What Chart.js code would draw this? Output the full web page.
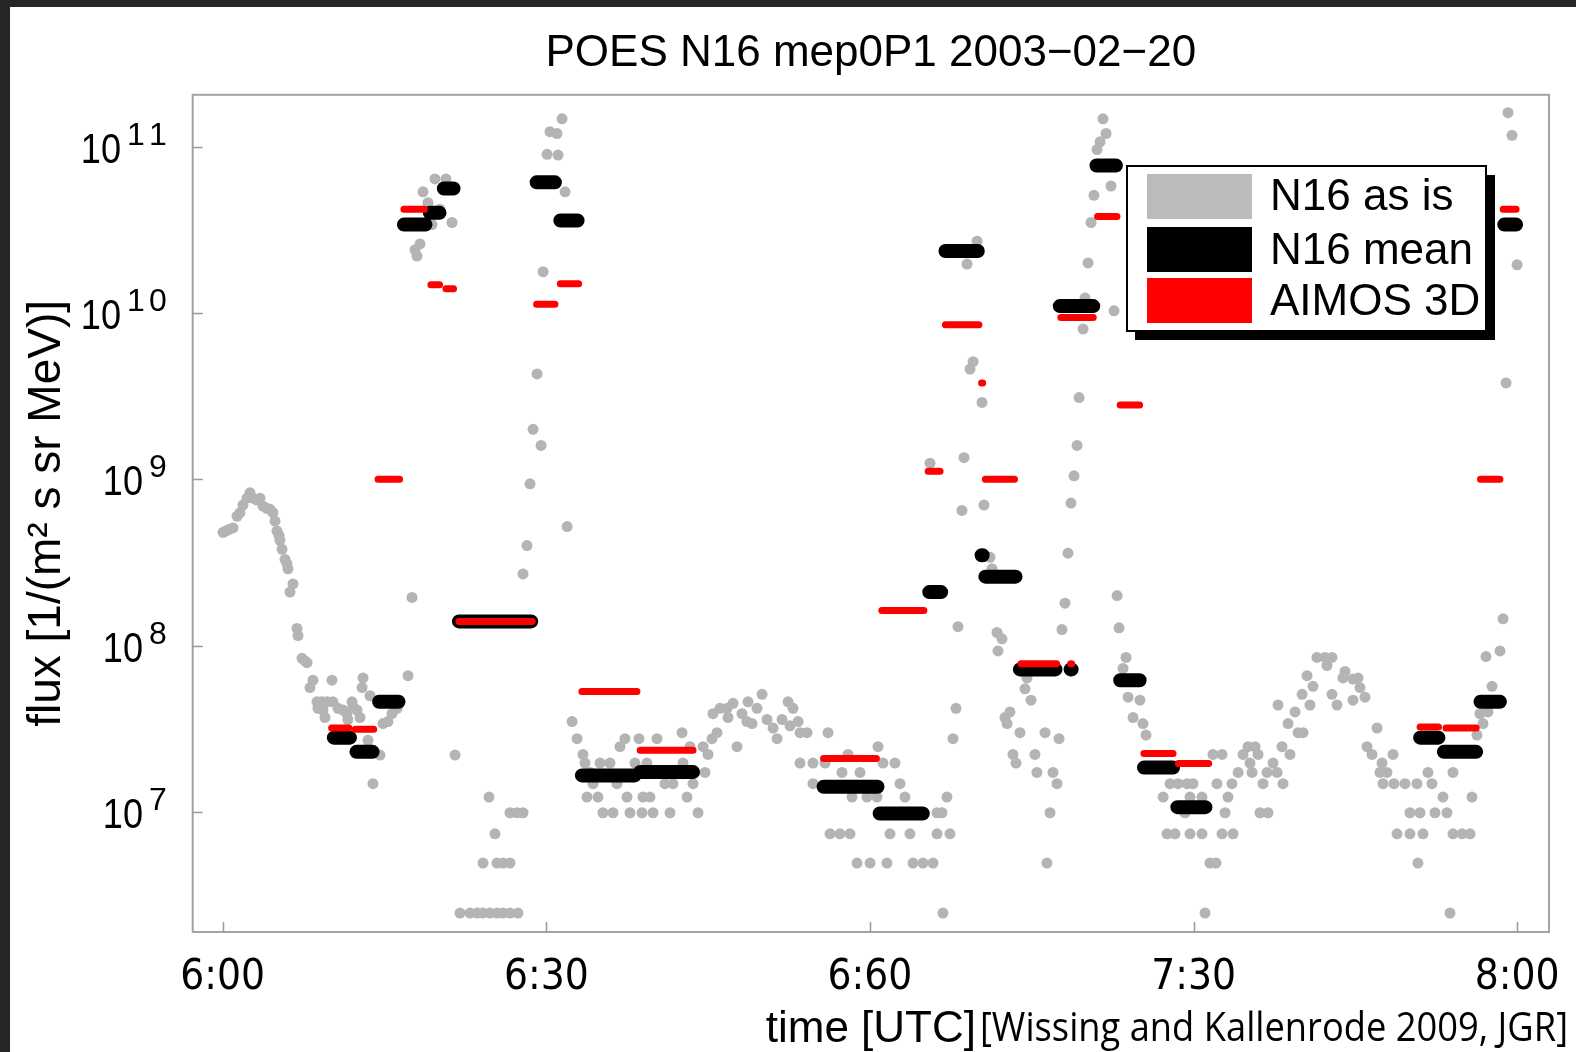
<!DOCTYPE html>
<html><head><meta charset="utf-8">
<script src="https://cdn.jsdelivr.net/npm/chart.js@4.4.1/dist/chart.umd.min.js"></script>
<style>
html,body{margin:0;padding:0;background:#262626;width:1576px;height:1052px;overflow:hidden}
#wrap{position:absolute;left:10px;top:7px;width:1566px;height:1045px;background:#fff}
canvas{display:block}
</style></head><body><div id="wrap"><canvas id="c" width="1566" height="1045"></canvas></div>
<script>
// ---------- data (time in minutes after 6:00 UTC, flux in 1/(m^2 s sr MeV)) ----------
const xTickValues = [0, 30, 60, 90, 120];
const xTickLabels = ['6:00', '6:30', '6:60', '7:30', '8:00'];
const yTickValues = [1e7, 1e8, 1e9, 1e10, 1e11];
const yTickBase = '10';
const yTickExponents = ['7', '8', '9', '10', '11'];

const grayTime = [
 0.03,0.31,0.59,0.96,1.33,1.60,1.88,2.25,2.53,2.81,3.18,3.46,3.74,4.11,4.39,4.66,4.85,5.03,5.22,5.31,
 5.50,5.78,5.96,6.05,6.24,6.52,6.89,6.98,7.35,7.63,7.82,8.09,8.37,8.74,8.83,9.20,9.30,9.48,9.67,10.13,
 10.22,10.69,11.15,11.52,11.60,11.99,12.08,12.45,12.73,12.92,13.01,13.47,13.66,13.93,14.58,14.86,15.32,15.69,16.16,17.18,
 17.55,17.83,18.01,18.29,18.57,19.03,19.40,19.68,20.15,20.70,21.26,21.54,
 22.00,22.93,23.58,24.13,24.78,25.43,25.99,26.63,27.37,24.13,25.43,25.99,26.63,25.24,24.69,26.63,27.28,27.84,
 27.84,28.21,28.49,28.77,29.14,29.51,29.70,30.07,30.34,30.99,31.09,31.46,31.74,31.93,
 32.39,32.85,33.40,33.59,33.77,34.05,34.33,34.79,34.98,35.25,35.90,36.18,36.55,36.83,37.29,37.48,37.76,38.22,38.59,38.87,
 38.96,39.33,39.61,39.89,40.26,41.00,41.47,41.74,42.58,42.67,43.04,43.32,43.60,44.06,44.53,44.71,44.99,45.36,45.45,45.82,
 46.10,46.75,46.84,47.31,47.68,48.14,48.60,48.70,49.07,49.53,50.00,50.46,51.02,51.39,51.85,52.41,52.59,52.87,53.34,53.52,
 54.17,56.12,
 53.52,54.72,54.72,55.84,56.30,57.22,57.41,57.97,58.15,58.34,58.80,59.08,59.73,60.01,60.65,60.75,61.21,61.58,61.86,62.32,
 62.79,63.25,63.71,63.99,64.92,65.57,65.85,66.22,66.22,66.68,66.77,67.14,67.42,67.70,67.98,68.16,68.53,68.72,69.00,69.28,
 69.56,69.93,70.39,70.57,71.13,71.32,71.78,71.87,72.24,72.52,72.71,72.98,73.26,73.54,73.91,74.37,74.56,74.93,75.30,75.48,
 76.23,76.41,76.69,76.97,77.34,77.53,77.80,78.08,78.36,78.64,78.92,79.20,79.39,79.76,79.94,80.22,80.50,80.77,81.05,81.33,
 81.61,81.89,82.35,82.63,82.91,83.09,83.46,83.74,83.93,84.39,85.03,85.31,85.59,
 87.18,87.54,87.82,88.28,88.56,89.21,89.40,89.67,89.67,89.95,90.78,90.78,91.06,91.52,91.80,92.08,92.17,92.64,92.64,92.92,
 93.19,93.56,93.66,94.13,94.59,95.05,95.23,95.42,95.70,95.98,96.16,96.44,96.81,96.90,97.37,97.74,97.83,98.20,98.29,98.76,
 98.94,99.41,99.69,100.06,100.15,100.52,100.79,101.07,101.44,102.18,102.37,102.83,102.83,103.30,103.85,104.04,104.78,104.78,105.25,105.43,
 105.89,106.08,106.54,107.01,107.28,107.47,107.56,107.93,108.49,108.58,108.86,109.60,110.06,110.06,110.71,110.80,110.99,111.27,111.73,112.10,
 112.38,113.12,113.49,113.77,114.05,114.05,114.89,115.63,115.81,116.27,116.55,116.83,117.11,117.29,117.67,118.41,118.69,118.97,119.15,119.52,
 119.99
];
const grayFlux = [
 4.8e8,4.9e8,5.0e8,5.1e8,6.0e8,6.3e8,7.0e8,7.7e8,8.3e8,7.7e8,7.5e8,7.7e8,6.9e8,6.7e8,6.6e8,6.3e8,5.6e8,4.9e8,4.6e8,4.3e8,
 3.8e8,3.3e8,3.1e8,2.9e8,2.1e8,2.35e8,1.27e8,1.15e8,8.4e7,8.1e7,7.9e7,5.6e7,6.2e7,4.6e7,4.2e7,4.6e7,4.1e7,3.7e7,4.6e7,6.2e7,
 4.6e7,4.2e7,4.1e7,3.9e7,3.6e7,4.6e7,4.3e7,4.1e7,3.7e7,5.6e7,6.4e7,2.7e7,5.0e7,1.48e7,2.2e7,3.4e7,3.5e7,3.9e7,4.2e7,6.6e7,
 1.95e8,2.4e10,2.2e10,2.6e10,5.35e10,4.6e10,3.4e10,6.4e10,4.2e10,6.4e10,3.5e10,2.2e7,
 2.47e6,2.47e6,2.47e6,2.47e6,2.47e6,2.47e6,2.47e6,2.47e6,2.47e6,4.93e6,4.93e6,4.93e6,4.93e6,7.4e6,1.23e7,9.9e6,9.9e6,9.9e6,
 2.7e8,4.0e8,9.4e8,2.0e9,4.3e9,1.6e9,1.77e10,9.0e10,1.23e11,1.2e11,8.9e10,1.47e11,5.35e10,5.2e8,
 3.5e7,2.76e7,2.22e7,1.97e7,1.23e7,1.73e7,1.48e7,1.23e7,1.97e7,9.9e6,1.97e7,9.9e6,1.48e7,2.47e7,2.76e7,1.23e7,9.9e6,1.97e7,2.76e7,9.9e6,
 1.23e7,1.97e7,1.23e7,9.9e6,2.76e7,1.48e7,9.9e6,1.48e7,3.0e7,1.97e7,1.23e7,2.47e7,1.48e7,9.9e6,2.47e7,1.73e7,2.22e7,2.76e7,3.9e7,3.0e7,
 4.2e7,4.2e7,3.7e7,4.5e7,2.47e7,3.9e7,3.5e7,4.6e7,3.4e7,4.2e7,5.1e7,3.6e7,3.2e7,2.76e7,3.6e7,4.6e7,3.3e7,4.2e7,3.5e7,3.0e7,
 3.0e7,3.0e7,
 1.97e7,1.97e7,1.48e7,1.97e7,7.4e6,7.4e6,1.73e7,2.22e7,7.4e6,1.23e7,4.93e6,1.73e7,1.23e7,4.93e6,1.23e7,2.47e7,1.97e7,4.93e6,7.4e6,1.97e7,
 1.48e7,1.23e7,7.4e6,4.93e6,4.93e6,1.25e9,4.93e6,7.4e6,9.9e6,9.9e6,2.47e6,1.23e7,7.4e6,2.76e7,4.2e7,1.3e8,6.5e8,1.35e9,1.97e10,4.6e9,
 5.1e9,2.7e10,2.9e9,7.0e8,3.4e8,2.9e8,1.2e8,9.3e7,1.1e8,3.7e7,3.4e7,4.0e7,2.22e7,1.97e7,3.0e7,5.5e7,6.4e7,4.7e7,2.22e7,1.73e7,
 3.0e7,4.93e6,9.9e6,1.73e7,1.48e7,2.76e7,1.25e8,1.8e8,3.6e8,7.2e8,1.05e9,1.6e9,3.1e9,8.0e9,1.23e10,2.0e10,3.5e10,5.1e10,9.6e10,1.07e11,
 1.47e11,1.2e11,5.8e10,1.03e10,2.0e8,1.28e8,7.3e7,8.5e7,4.9e7,3.7e7,4.7e7,3.4e7,2.9e7,
 1.23e7,7.4e6,1.48e7,7.4e6,1.48e7,9.9e6,1.48e7,1.23e7,7.4e6,1.48e7,1.23e7,7.4e6,2.47e6,4.93e6,2.22e7,4.93e6,1.48e7,2.22e7,7.4e6,9.9e6,
 1.23e7,1.48e7,7.4e6,1.73e7,2.22e7,2.47e7,1.97e7,1.73e7,2.47e7,2.22e7,9.9e6,1.48e7,1.73e7,9.9e6,1.97e7,1.73e7,4.4e7,2.47e7,1.48e7,3.4e7,
 2.22e7,4.0e7,3.0e7,5.1e7,3.0e7,6.6e7,4.4e7,5.7e7,8.5e7,8.5e7,7.6e7,8.5e7,5.1e7,4.4e7,6.4e7,7.0e7,6.3e7,4.7e7,6.4e7,5.6e7,
 4.9e7,2.47e7,2.22e7,3.2e7,1.73e7,1.97e7,1.48e7,1.73e7,2.22e7,1.48e7,7.4e6,1.48e7,9.9e6,7.4e6,1.48e7,4.93e6,9.9e6,7.4e6,1.73e7,1.48e7,
 9.9e6,1.23e7,9.9e6,2.47e6,1.73e7,7.4e6,7.4e6,7.4e6,1.23e7,2.9e7,3.9e7,3.4e7,8.6e7,4.0e7,5.7e7,9.3e7,1.45e8,3.8e9,1.6e11,1.17e11,
 1.95e10
];

// N16 mean: interval start, end, value
const meanStart = [10.3,12.4,14.5,16.8,19.2,20.5,21.9,29.1,31.3,33.3,38.7,55.7,60.9,65.5,67.0,70.35,70.7,73.9,78.6,77.6,81.0,83.2,85.4,88.5,111.0,113.2,116.6,118.8];
const meanEnd   = [11.8,13.9,16.3,18.8,20.1,21.4,28.6,30.8,32.9,38.2,43.6,60.7,64.9,66.6,70.0,70.45,73.5,77.2,78.7,80.7,82.8,85.0,88.1,91.1,112.7,116.2,118.4,119.9];
const meanValue = [2.8e7,2.3e7,4.6e7,3.4e10,4.0e10,5.6e10,1.4e8,6.1e10,3.6e10,1.66e7,1.74e7,1.42e7,9.8e6,2.1e8,2.36e10,3.5e8,2.6e8,7.2e7,7.2e7,1.1e10,7.7e10,6.2e7,1.85e7,1.07e7,2.8e7,2.3e7,4.6e7,3.4e10];

// AIMOS 3D: interval start, end, value
const aimosStart = [10.1,12.3,14.4,16.8,19.3,20.7,21.9,29.1,31.3,33.3,38.7,55.7,61.1,65.4,67.0,70.35,70.7,74.0,78.6,77.7,81.1,83.2,85.4,88.6,111.0,113.4,116.6,118.7];
const aimosEnd   = [11.7,14.0,16.4,18.7,20.1,21.4,28.7,30.8,33.0,38.4,43.6,60.6,65.0,66.5,70.1,70.45,73.4,77.3,78.7,80.7,82.9,85.0,88.1,91.4,112.7,116.2,118.4,119.9];
const aimosValue = [3.2e7,3.15e7,1.0e9,4.2e10,1.48e10,1.4e10,1.4e8,1.13e10,1.5e10,5.3e7,2.35e7,2.1e7,1.63e8,1.12e9,8.5e9,3.8e9,1.0e9,7.8e7,7.8e7,9.4e9,3.8e10,2.8e9,2.25e7,1.96e7,3.25e7,3.2e7,1.0e9,4.2e10];

const seriesLabels = ['N16 as is', 'N16 mean', 'AIMOS 3D'];
const titleText = 'POES N16 mep0P1 2003\u221202\u221220';
const citationText = '[Wissing and Kallenrode 2009, JGR]';

// ---------- build ----------
const SANS = "'Liberation Sans', Arial, Helvetica, sans-serif";
const COND = "'DejaVu Sans Condensed', 'Liberation Sans Narrow', 'Liberation Sans', sans-serif";
const CITE = "'Open Sans', 'Noto Sans', sans-serif";
const GRAY = '#b4b4b4';
const NARROW_SCALE = 0.84;

const grayPoints = grayTime.map((t, i) => ({x: t, y: grayFlux[i]}));
function segments(starts, ends, vals) {
  const d = [];
  starts.forEach((s, i) => {
    d.push({x: s, y: vals[i]}, {x: ends[i], y: vals[i]}, {x: ends[i], y: null});
  });
  return d;
}

function narrowText(ctx, text, x, y, align) {
  ctx.save();
  ctx.translate(x, y); ctx.scale(NARROW_SCALE, 1);
  ctx.textAlign = align; ctx.fillText(text, 0, 0);
  ctx.restore();
}

const decor = {
  id: 'decor',
  afterDraw(chart) {
    const {ctx, chartArea: a, scales: {x, y}} = chart;
    ctx.save();
    // frame
    ctx.strokeStyle = '#a3a3a3'; ctx.lineWidth = 2;
    ctx.strokeRect(a.left, a.top, a.right - a.left, a.bottom - a.top);
    // inward ticks
    ctx.beginPath();
    yTickValues.forEach(v => { const py = Math.round(y.getPixelForValue(v)) + 0.5; ctx.moveTo(a.left, py); ctx.lineTo(a.left + 10, py); });
    xTickValues.forEach(v => { const px = Math.round(x.getPixelForValue(v)) + 0.5; ctx.moveTo(px, a.bottom); ctx.lineTo(px, a.bottom - 10); });
    ctx.strokeStyle = '#999'; ctx.lineWidth = 1.5; ctx.stroke();
    ctx.fillStyle = '#000'; ctx.textBaseline = 'alphabetic';
    // y tick labels 10^n
    yTickValues.forEach((v, i) => {
      const ty = y.getPixelForValue(v);
      const ex = yTickExponents[i];
      const pitch = 22, lastC = 148;
      const firstC = lastC - pitch * (ex.length - 1);
      ctx.font = '32px ' + SANS; ctx.textAlign = 'center';
      for (let k = 0; k < ex.length; k++) ctx.fillText(ex[k], firstC + pitch * k, ty - 2);
      ctx.font = '43px ' + SANS;
      narrowText(ctx, yTickBase, firstC - 15, ty + 16, 'right');
    });
    // legend
    const bx = 1117, by = 159, bw = 359, bh = 165;
    ctx.fillStyle = '#000'; ctx.fillRect(bx + 8, by + 9, bw + 1, bh);
    ctx.fillStyle = '#fff'; ctx.fillRect(bx, by, bw, bh);
    ctx.strokeStyle = '#000'; ctx.lineWidth = 2; ctx.strokeRect(bx, by, bw, bh);
    const swCol = ['#bbbbbb', '#000000', '#ff0000'];
    const swY = [167, 220, 271];
    const txtY = [203, 257, 308];
    chart.data.datasets.forEach((ds, i) => {
      ctx.fillStyle = swCol[i]; ctx.fillRect(1137, swY[i], 105, 45);
      ctx.fillStyle = '#000'; ctx.font = '44px ' + SANS; ctx.textAlign = 'left';
      ctx.fillText(ds.label, 1260, txtY[i]);
    });
    // citation
    ctx.font = '41px ' + CITE; ctx.textAlign = 'left'; ctx.fillStyle = '#000';
    const w = ctx.measureText(citationText).width;
    ctx.translate(970, 1034); ctx.scale(588 / w, 1);
    ctx.fillText(citationText, 0, 0);
    ctx.restore();
  }
};

new Chart(document.getElementById('c'), {
  type: 'line',
  data: {
    datasets: [
      {label: seriesLabels[0], data: grayPoints, showLine: false, pointRadius: 5.5, pointBackgroundColor: GRAY, pointBorderWidth: 0, order: 3},
      {label: seriesLabels[1], data: segments(meanStart, meanEnd, meanValue), borderColor: '#000', borderWidth: 14, borderCapStyle: 'round', pointRadius: 0, spanGaps: false, tension: 0, order: 2},
      {label: seriesLabels[2], data: segments(aimosStart, aimosEnd, aimosValue), borderColor: '#ff0000', borderWidth: 7, borderCapStyle: 'round', pointRadius: 0, spanGaps: false, tension: 0, order: 1}
    ]
  },
  options: {
    responsive: false, animation: false, devicePixelRatio: 1,
    events: [],
    layout: {padding: {top: 0, right: 27, left: 0, bottom: 0}},
    plugins: {
      legend: {display: false}, tooltip: {enabled: false},
      title: {display: true, text: titleText, fullSize: false, color: '#000', font: {family: SANS, size: 44, weight: 'normal'}, padding: {top: 20, bottom: 15}}
    },
    scales: {
      x: {
        type: 'linear', min: -2.78, max: 122.95,
        afterBuildTicks: ax => { ax.ticks = xTickValues.map(v => ({value: v})); },
        afterFit: sc => { sc.height = 120; sc.paddingLeft = 0; sc.paddingRight = 0; },
        grid: {display: false, drawTicks: false}, border: {display: false},
        ticks: {autoSkip: false, maxRotation: 0, padding: 21, color: '#000', font: {family: COND, size: 42},
          callback: v => { const i = xTickValues.indexOf(v); return i >= 0 ? xTickLabels[i] : ''; }},
        title: {display: true, text: 'time [UTC]', color: '#000', font: {family: SANS, size: 44}, padding: {top: 0, bottom: -4}}
      },
      y: {
        type: 'logarithmic', min: 1.9e6, max: 2.05e11,
        afterBuildTicks: ax => { ax.ticks = yTickValues.map(v => ({value: v})); },
        afterFit: sc => { sc.width = 182.7; sc.paddingTop = 0; sc.paddingBottom = 0; },
        grid: {display: false, drawTicks: false}, border: {display: false},
        ticks: {display: false},
        title: {display: true, text: 'flux [1/(m\u00b2 s sr MeV)]', color: '#000', font: {family: SANS, size: 46}, padding: {top: 10, bottom: 0}}
      }
    }
  },
  plugins: [decor]
});
</script></body></html>
